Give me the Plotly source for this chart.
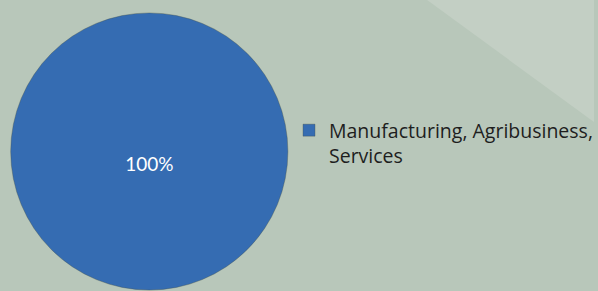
import plotly.graph_objects as go

labels = ["Manufacturing, Agribusiness,<br>Services"]
values = [100]
colors = ["#356cb2"]

W, H = 598, 291
T = 12
PH = H - T
cx, r = 150.3, 139.5

fig = go.Figure()
fig.add_trace(go.Pie(
    labels=labels,
    values=values,
    marker=dict(colors=colors, line=dict(color="rgba(70,80,70,0.35)", width=1)),
    textinfo="percent",
    texttemplate="&nbsp;<br>%{percent}",
    textposition="inside",
    insidetextfont=dict(family="Lato", size=19, color="white"),
    sort=False,
    hoverinfo="label+percent",
    domain=dict(x=[(cx - r) / W, (cx + r) / W], y=[0, 1]),
))

fig.update_layout(
    width=W, height=H,
    margin=dict(l=0, r=0, t=T, b=0),
    paper_bgcolor="#b8c7ba",
    plot_bgcolor="#b8c7ba",
    showlegend=True,
    legend=dict(
        x=291 / W, y=1 - 99 / PH, xanchor="left", yanchor="top",
        bgcolor="rgba(0,0,0,0)",
        font=dict(family="Open Sans", size=19.5, color="#1e1e1e"),
        valign="top",
        itemwidth=30,
        tracegroupgap=0,
    ),
    shapes=[dict(
        type="path", xref="paper", yref="paper",
        path="M %f %f L 1 %f L 1 %f Z" % (430 / W, 1 + T / PH, 1 + T / PH, 1 - (122 - T) / PH),
        fillcolor="#c3cfc4", line=dict(width=0), layer="below",
    )],
)

fig.write_html(
    "out.html",
    config={"displayModeBar": False},
    post_script="document.body.style.margin='0';document.body.style.overflow='hidden';",
)
